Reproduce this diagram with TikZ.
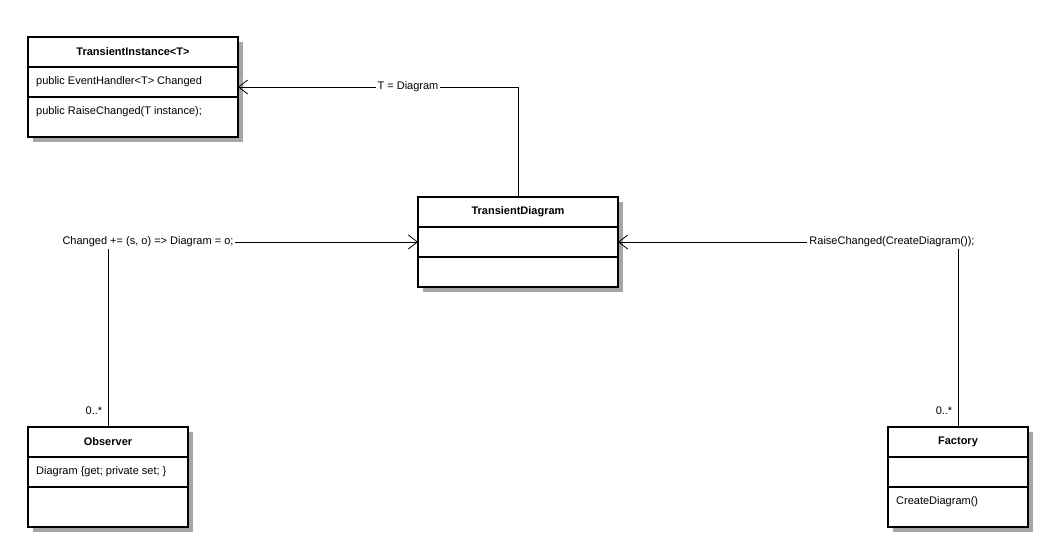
\documentclass[tikz,border=0pt]{standalone}
\usepackage{fontspec}
\setmainfont{Liberation Sans}
\usetikzlibrary{arrows.meta}
\begin{document}
\begin{tikzpicture}[x=1pt,y=-1pt,font=\fontsize{11}{13}\selectfont,
  conn/.style={draw,line width=0.8pt},
  arr/.style={-{Straight Barb[length=9pt,width=14pt]}},
  lbl/.style={fill=white,inner sep=2pt},
  hdr/.style={font=\fontsize{11}{13}\selectfont\bfseries},
  mem/.style={anchor=west,inner sep=0pt}]
\useasboundingbox (0,0) rectangle (1064,552);
\def\umlbox#1#2#3#4#5#6#7{% name x1 y1 x2 y2 l1 l2
  \fill[black!35] (#2+5,#3+5) rectangle (#4+5,#5+5);
  \draw[fill=white,line width=1.2pt] (#2,#3) rectangle (#4,#5);
  \draw[line width=1.2pt] (#2,#6) -- (#4,#6);
  \draw[line width=1.2pt] (#2,#7) -- (#4,#7);
  \coordinate (#1) at (#2,#3);}
\umlbox{ti}{28}{37}{238}{137}{67}{97}
\node[hdr] (tih) at (133,52) {TransientInstance<T>};
\node[mem] (tim1) at (36,82) {public EventHandler<T> Changed};
\node[mem] (tim2) at (36,112) {public RaiseChanged(T instance);};
\umlbox{td}{418}{197}{618}{287}{227}{257}
\node[hdr] (tdh) at (518,212) {TransientDiagram};
\umlbox{ob}{28}{427}{188}{527}{457}{487}
\node[hdr] (obh) at (108,442) {Observer};
\node[mem] (obm) at (36,472) {Diagram \{get; private set; \}};
\umlbox{fa}{888}{427}{1028}{527}{457}{487}
\node[hdr] (fah) at (958,442) {Factory};
\node[mem] (fam) at (896,502) {CreateDiagram()};
\coordinate (tdtop) at (518,197);
\coordinate (tdl) at (418,242);
\coordinate (tdr) at (618,242);
\coordinate (tir) at (238,87);
\coordinate (obt) at (108,427);
\coordinate (fat) at (958,427);
\draw[conn,arr] (tdtop) -- (518,87) -- (tir);
\draw[conn,arr] (obt) -- (108,242) -- (tdl);
\draw[conn,arr] (fat) -- (958,242) -- (tdr);
\node[lbl] (l1) at (408,87) {T = Diagram};
\node[lbl] (l2) at (148,242) {Changed += (s, o) => Diagram = o;};
\node[lbl] (l3) at (892,242) {RaiseChanged(CreateDiagram());};
\node (m1) at (94,411) {0..*};
\node (m2) at (944,411) {0..*};
\end{tikzpicture}
\end{document}
